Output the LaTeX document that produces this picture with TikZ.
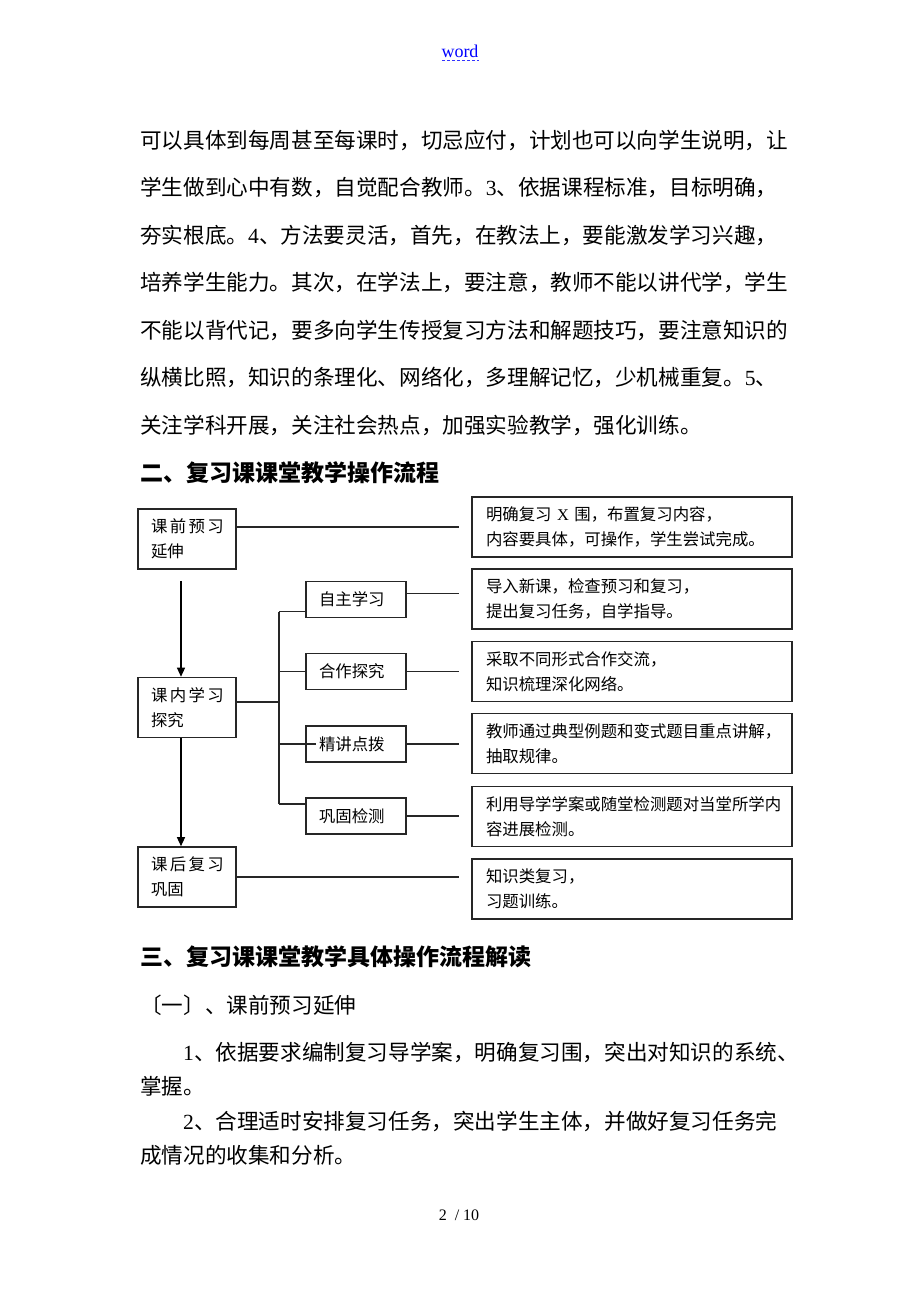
\documentclass[tikz,border=0pt]{standalone}
\usepackage{fontspec}
\setmainfont{Liberation Serif}
\newfontfamily\cjk{Noto Sans CJK SC}
\usetikzlibrary{arrows.meta,calc}
\newcommand\lat[1]{{\rmfamily #1}}
\newcommand\ks{\kern2.4pt}
\begin{document}
\begin{tikzpicture}[x=1pt,y=-1pt,
  body/.style={anchor=west,inner sep=0,font=\cjk\fontsize{21.6}{21.6}\selectfont},
  head/.style={anchor=west,inner sep=0,font=\cjk\bfseries\fontsize{23}{23}\selectfont},
  bx/.style={draw=black!85,line width=1.6pt,inner ysep=0pt,align=left,font=\cjk\fontsize{16.4}{25}\selectfont},
  lbox/.style={bx,inner xsep=13pt,text width=72pt,minimum height=60pt},
  sbox/.style={bx,inner xsep=13pt,text width=74pt,minimum height=36pt},
  rbox/.style={bx,inner xsep=14pt,text width=292pt,minimum height=60pt},
  conn/.style={line width=1.2pt,draw=black!85},
  arr/.style={line width=1.2pt,-{Triangle[length=9pt,width=8pt]}}]
\fill[white] (0,0) rectangle (920,1302);
\useasboundingbox (0,0) rectangle (920,1302);

% header
\node[inner sep=0,text=blue,font=\fontsize{18}{18}\selectfont] (hdr) at (460,51) {word};
\draw[blue!80!white,line width=1pt,dash pattern=on 3pt off 2pt] (442,60) -- (479,60);

% body text
\node[body] (t1) at (140,140) {可以具体到每周甚至每课时，切忌应付，计划也可以向学生说明，让};
\node[body] (t2) at (140,187.5) {学生做到心中有数，自觉配合教师。\lat{3}、依据课程标准，目标明确，};
\node[body] (t3) at (140,235) {夯实根底。\lat{4}、方法要灵活，首先，在教法上，要能激发学习兴趣，};
\node[body] (t4) at (140,282.5) {培养学生能力。其次，在学法上，要注意，教师不能以讲代学，学生};
\node[body] (t5) at (140,330) {不能以背代记，要多向学生传授复习方法和解题技巧，要注意知识的};
\node[body] (t6) at (140,377.5) {纵横比照，知识的条理化、网络化，多理解记忆，少机械重复。\lat{5}、};
\node[body] (t7) at (140,425) {关注学科开展，关注社会热点，加强实验教学，强化训练。};
\node[head] (h2) at (140,473) {二、复习课课堂教学操作流程};

% flow chart
\node[lbox] (lb1) at (187,539) {课\ks 前\ks 预\ks 习\\延伸};
\node[lbox] (lb2) at (187,707.5) {课\ks 内\ks 学\ks 习\\探究};
\node[lbox] (lb3) at (187,877) {课\ks 后\ks 复\ks 习\\巩固};
\node[sbox] (sb1) at (356,599.5) {自主学习};
\node[sbox] (sb2) at (356,671.5) {合作探究};
\node[sbox] (sb3) at (356,744) {精讲点拨};
\node[sbox] (sb4) at (356,816) {巩固检测};
\node[rbox] (rb1) at (632,527) {明确复习 \lat{X} 围，布置复习内容，\\内容要具体，可操作，学生尝试完成。};
\node[rbox] (rb2) at (632,599) {导入新课，检查预习和复习，\\提出复习任务，自学指导。};
\node[rbox] (rb3) at (632,671.5) {采取不同形式合作交流，\\知识梳理深化网络。};
\node[rbox] (rb4) at (632,743.5) {教师通过典型例题和变式题目重点讲解，\\抽取规律。};
\node[rbox] (rb5) at (632,816.5) {利用导学学案或随堂检测题对当堂所学内\\容进展检测。};
\node[rbox] (rb6) at (632,889) {知识类复习，\\习题训练。};

\coordinate (trunk) at (279,0);
\coordinate (rx) at (459,0);
\coordinate (tt) at (279,611.5);
\coordinate (tb) at (279,804);

\draw[conn] (lb1.east |- rb1.west) -- (rb1.west -| rx);
\draw[arr] ([xshift=-6pt,yshift=-11pt]lb1.south) -- ([xshift=-6pt]lb2.north);
\draw[arr] ([xshift=-6pt]lb2.south) -- ([xshift=-6pt]lb3.north);
\draw[conn] ([yshift=5.5pt]lb2.east) -- ([yshift=5.5pt]lb2.east -| trunk);
\draw[conn] (tt) -- (tb);
\draw[conn] (tt) -- (tt -| sb1.west);
\draw[conn] (sb2.west -| trunk) -- (sb2.west);
\draw[conn] (sb3.west -| trunk) -- ([xshift=11pt]sb3.west);
\draw[conn] (tb) -- (tb -| sb4.west);
\draw[conn] ([yshift=6pt]sb1.east) -- ([yshift=6pt]sb1.east -| rx);
\draw[conn] (sb2.east) -- (sb2.east -| rx);
\draw[conn] (sb3.east) -- (sb3.east -| rx);
\draw[conn] (sb4.east) -- (sb4.east -| rx);
\draw[conn] (lb3.east) -- (lb3.east -| rx);

% section three
\node[head] (h3) at (140,957) {三、复习课课堂教学具体操作流程解读};
\node[body] (p0) at (140,1005) {〔一〕、课前预习延伸};
\node[body] (p1) at (183,1052) {\lat{1}、依据要求编制复习导学案，明确复习围，突出对知识的系统、};
\node[body] (p2) at (140,1086) {掌握。};
\node[body] (p3) at (183,1121) {\lat{2}、合理适时安排复习任务，突出学生主体，并做好复习任务完};
\node[body] (p4) at (140,1155) {成情况的收集和分析。};

\node[inner sep=0,font=\fontsize{16}{16}\selectfont] (pg) at (459,1215) {2 ~/ 10};
\end{tikzpicture}
\end{document}
